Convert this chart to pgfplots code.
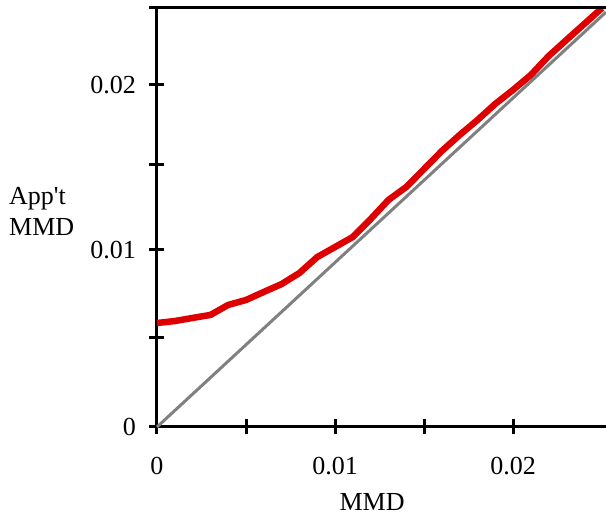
\documentclass[border=0pt]{standalone}
\usepackage{fontspec}
\setmainfont{Liberation Serif}
\usepackage{pgfplots}
\pgfplotsset{compat=1.18}
\definecolor{redline}{RGB}{222,0,0}
\definecolor{grayline}{RGB}{128,128,128}
\begin{document}
\begin{tikzpicture}
\begin{axis}[
  name=ax,
  scale only axis,
  width=449pt, height=419pt,
  xmin=0, xmax=0.02522,
  ymin=0, ymax=0.02547,
  scaled x ticks=false,
  scaled y ticks=false,
  axis x line*=bottom,
  axis y line*=left,
  axis line style={line width=3pt, black},
  xtick={0,0.005,0.01,0.015,0.02},
  xticklabels={0,,0.01,,0.02},
  ytick={0,0.00541,0.01076,0.01593,0.02079,0.02547},
  yticklabels={0,,0.01,,0.02,},
  major tick length=15pt,
  tick align=center,
  tick style={line width=3pt, black},
  minor tick num=0,
  /pgf/number format/assume math mode=true,
  ticklabel style={font=\fontsize{26}{31}\selectfont},
  xticklabel style={yshift=-19pt},
  yticklabel style={xshift=-10pt},
  xlabel={MMD},
  xlabel style={font=\fontsize{26}{31}\selectfont, at={(rel axis cs:0.479,0)}, anchor=base, yshift=-84pt, inner sep=0pt},
  ylabel={App\textquotesingle t\\MMD},
  ylabel style={font=\fontsize{26}{31}\selectfont, rotate=-90, align=left, at={(rel axis cs:0,0.515)}, anchor=west, xshift=-148pt, inner sep=0pt},
  clip=false,
]
\addplot[grayline, line width=3pt] coordinates {(0,0) (0.02522,0.02522)};
\addplot[redline, line width=6.5pt, line join=round] coordinates {
(0.000,0.00632)
(0.001,0.00644)
(0.002,0.00663)
(0.003,0.00681)
(0.004,0.00742)
(0.005,0.00772)
(0.006,0.00821)
(0.007,0.00869)
(0.008,0.00936)
(0.009,0.01033)
(0.010,0.01094)
(0.011,0.01155)
(0.012,0.01264)
(0.013,0.01380)
(0.014,0.01459)
(0.015,0.01568)
(0.016,0.01678)
(0.017,0.01775)
(0.018,0.01866)
(0.019,0.01964)
(0.020,0.02049)
(0.021,0.02140)
(0.022,0.02255)
(0.023,0.02353)
(0.024,0.02450)
(0.0250,0.02547)
};
\draw[line width=3pt, black] (rel axis cs:0,1) -- (rel axis cs:1,1);
\end{axis}
\pgfresetboundingbox
\path (ax.south west) ++(-157pt,-89pt) rectangle ++(606pt,516pt);
\end{tikzpicture}
\end{document}
